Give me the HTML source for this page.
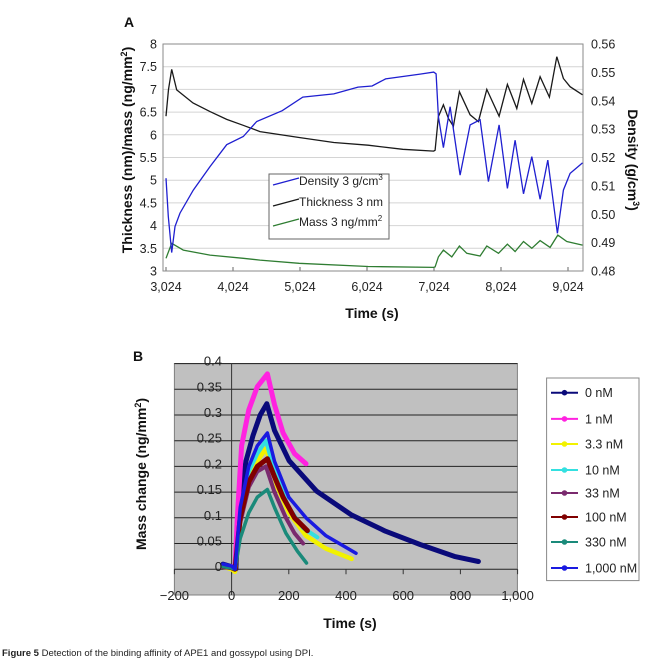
<!DOCTYPE html>
<html><head><meta charset="utf-8"><style>
body{margin:0;background:#fff;width:651px;height:663px;overflow:hidden;font-family:"Liberation Sans",Arial,sans-serif}
svg{position:absolute;left:0;top:0}
.cap{position:absolute;left:2px;top:648px;font-size:9.5px;color:#222}
</style></head><body>
<svg id="chart" width="651" height="663"></svg>
<div class="cap"><b>Figure 5</b> Detection of the binding affinity of APE1 and gossypol using DPI.</div>
<script>
// ---- Panel A data ----
const aTicksX=[3024,4024,5024,6024,7024,8024,9024];
const aTicksL=[3,3.5,4,4.5,5,5.5,6,6.5,7,7.5,8];
const aTicksR=[0.48,0.49,0.50,0.51,0.52,0.53,0.54,0.55,0.56];
const thickT=[3024,3062,3109,3184,3427,3681,3930,4176,4427,5010,5529,6040,6558,7020,7040,7090,7164,7239,7313,7403,7563,7687,7812,7996,8120,8260,8360,8484,8608,8747,8857,8956,9056,9240];
const thickV=[6.41,7.0,7.44,6.99,6.70,6.51,6.34,6.21,6.07,5.94,5.83,5.77,5.68,5.64,5.66,6.40,6.66,6.36,6.19,6.95,6.44,6.29,7.00,6.41,7.11,6.58,7.22,6.69,7.28,6.83,7.72,7.24,7.06,6.88];
const densT=[3024,3058,3109,3158,3233,3432,3681,3930,4178,4378,4759,5066,5529,5890,6100,6301,6816,7020,7056,7090,7164,7264,7413,7563,7712,7836,7996,8120,8235,8360,8484,8608,8722,8866,8956,9056,9240];
const densV=[0.5127,0.4992,0.4865,0.4957,0.5004,0.5085,0.5168,0.5245,0.5274,0.5327,0.5365,0.5413,0.5424,0.5448,0.5452,0.5477,0.5494,0.5501,0.5495,0.5344,0.5235,0.5379,0.5138,0.5315,0.5333,0.5115,0.5315,0.5091,0.5261,0.5072,0.5203,0.5053,0.5191,0.4933,0.5085,0.5144,0.5181];
const massT=[3024,3109,3282,3681,4178,4427,5010,6040,7020,7040,7090,7164,7289,7403,7514,7712,7812,7986,8120,8235,8360,8484,8608,8757,8872,9006,9240];
const massV=[3.28,3.61,3.46,3.35,3.28,3.24,3.17,3.10,3.08,3.09,3.31,3.46,3.31,3.55,3.39,3.33,3.55,3.39,3.59,3.43,3.65,3.50,3.67,3.52,3.79,3.65,3.57];
// ---- Panel B data ----
const bTicksX=[-200,0,200,400,600,800,1000];
const bTicksY=[0,0.05,0.1,0.15,0.2,0.25,0.3,0.35,0.4];
const bLabels=["0 nM","1 nM","3.3 nM","10 nM","33 nM","100 nM","330 nM","1,000 nM"];
const s0T=[-30,0,15,20,35,50,75,100,123,150,201,297,418,538,659,779,863];
const s0V=[0.01,0.005,0,0.06,0.15,0.21,0.26,0.30,0.322,0.27,0.211,0.152,0.106,0.074,0.048,0.025,0.015];
const s1T=[-30,0,12,20,35,60,90,125,150,180,220,260];
const s1V=[0.005,0.005,0,0.1,0.24,0.31,0.355,0.38,0.32,0.265,0.225,0.205];
const s2T=[-30,0,12,30,60,90,120,160,200,260,330,420];
const s2V=[0.005,0,-0.005,0.1,0.18,0.21,0.235,0.16,0.11,0.065,0.04,0.02];
const s3T=[-30,0,12,30,60,90,120,150,200,250,300];
const s3V=[0.008,0.004,0,0.11,0.19,0.225,0.25,0.19,0.12,0.08,0.062];
const s4T=[-30,0,12,30,60,90,120,150,190,220,250];
const s4V=[0.004,0.002,0,0.09,0.16,0.19,0.2,0.15,0.1,0.07,0.05];
const s5T=[-30,0,12,30,60,90,125,150,180,220,265];
const s5V=[0.006,0.003,0,0.1,0.17,0.2,0.215,0.18,0.14,0.1,0.075];
const s6T=[-30,0,12,30,60,90,125,150,190,230,262];
const s6V=[0.005,0.002,0,0.06,0.11,0.14,0.155,0.12,0.07,0.035,0.012];
const s7T=[-30,0,12,30,60,90,125,150,200,260,330,435];
const s7V=[0.01,0.006,0,0.12,0.2,0.24,0.265,0.21,0.14,0.1,0.065,0.031];

const NS="http://www.w3.org/2000/svg";
const svg=document.getElementById('chart');
function mk(tag,attrs,parent){const e=document.createElementNS(NS,tag);for(const k in attrs)e.setAttribute(k,attrs[k]);(parent||svg).appendChild(e);return e;}
function txt(x,y,s,attrs){const e=mk('text',Object.assign({x:x,y:y},attrs||{}));e.textContent=s;return e;}

// ===== Panel A =====
const AL=163,AR=583,AT=44,AB=271;
const ax=t=>166+(t-3024)*0.067;
const ayL=v=>AB-(v-3)*45.4;
const ayR=d=>AB-(d-0.48)*2837.5;
const gA=mk('g',{});


txt(124,27,"A",{'font-size':14,'font-weight':'bold',fill:'#111'});
aTicksL.forEach(v=>{
  const l=mk('line',{x1:AL,x2:AR,y1:ayL(v),y2:ayL(v),stroke:'#d4d4d4','stroke-width':1},gA);
  
  const t=txt(157,ayL(v)+4.5,String(v),{'font-size':12.5,'text-anchor':'end',fill:'#222'});
  
});
aTicksR.forEach(d=>{
  const t=txt(591,ayR(d)+4.5,d.toFixed(2),{'font-size':12.5,fill:'#222'});
  
});
aTicksX.forEach(t=>{
  mk('line',{x1:ax(t),x2:ax(t),y1:AB,y2:AB-4,stroke:'#666'},gA);
  const e=txt(ax(t),AB+20,t.toLocaleString('en-US'),{'font-size':12.5,'text-anchor':'middle',fill:'#222'});
  
});
const bA=mk('rect',{x:AL,y:AT,width:AR-AL,height:AB-AT,fill:'none',stroke:'#8a8a8a'},gA);

function polyA(T,V,fy,col,name){
  const p=mk('polyline',{points:T.map((t,i)=>ax(t).toFixed(1)+','+fy(V[i]).toFixed(1)).join(' '),fill:'none',stroke:col,'stroke-width':1.3},gA);
  
  
}
polyA(massT,massV,ayL,'#2f7d32','mass-line');
polyA(thickT,thickV,ayL,'#1a1a1a','thickness-line');
polyA(densT,densV,ayR,'#1f1fd0','density-line');
// legend A
const lg=mk('g',{},gA);


mk('rect',{x:269,y:174,width:120,height:65,fill:'#fff',stroke:'#666'},lg);
[['#1f1fd0','Density 3 g/cm','3',181],['#1a1a1a','Thickness 3 nm','',202],['#2f7d32','Mass 3 ng/mm','2',222]].forEach(r=>{
  mk('line',{x1:273,x2:299,y1:r[3]+4,y2:r[3]-3,stroke:r[0],'stroke-width':1.3},lg);
  const t=txt(299,r[3]+4,r[1],{'font-size':12,fill:'#222'});
  
  if(r[2]){const s=mk('tspan',{'font-size':8,dy:-5},t);s.textContent=r[2];}
});
const ttA=txt(372,318,"Time (s)",{'font-size':14,'font-weight':'bold','text-anchor':'middle',fill:'#111'});

const ylA=txt(0,0,"Thickness (nm)/mass (ng/mm",{'font-size':14,'font-weight':'bold','text-anchor':'middle',fill:'#111',transform:'translate(132,150) rotate(-90)'});

{const s=mk('tspan',{'font-size':9,dy:-5},ylA);s.textContent='2';const s2=mk('tspan',{dy:5},ylA);s2.textContent=')';}
const yrA=txt(0,0,"Density (g/cm",{'font-size':14,'font-weight':'bold','text-anchor':'middle',fill:'#111',transform:'translate(628,160) rotate(90)'});

{const s=mk('tspan',{'font-size':9,dy:-5},yrA);s.textContent='3';const s2=mk('tspan',{dy:5},yrA);s2.textContent=')';}

// ===== Panel B =====
const BL=174.4,BR=517.4,BT=363.5,BB=595;
const bx=t=>231.6+t*0.286;
const by=m=>569.2-m*514;
const gB=mk('g',{});


txt(133,361,"B",{'font-size':14,'font-weight':'bold',fill:'#111'});
const bg=mk('rect',{x:BL,y:BT,width:BR-BL,height:BB-BT,fill:'#c0c0c0',stroke:'#808080'},gB);

bTicksY.forEach(m=>{
  if(m>0){const l=mk('line',{x1:BL,x2:BR,y1:by(m),y2:by(m),stroke:'#222','stroke-width':1},gB);}
  const t=txt(222,by(m)+2,String(m),{'font-size':13,'text-anchor':'end',fill:'#222'});
  
});
mk('line',{x1:BL,x2:BR,y1:by(0),y2:by(0),stroke:'#222'},gB);
mk('line',{x1:bx(0),x2:bx(0),y1:BT,y2:BB,stroke:'#333'},gB);
bTicksX.forEach(t=>{
  mk('line',{x1:bx(t),x2:bx(t),y1:by(0),y2:by(0)+5,stroke:'#333'},gB);
  const e=txt(bx(t),600,t<0?'\u2212'+(-t):t.toLocaleString('en-US'),{'font-size':13,'text-anchor':'middle',fill:'#222'});
  
});
const bColors=['#0a0a7a','#ff22e0','#f2f200','#33e0e0','#7a2a6e','#800000','#1a8a7a','#1a1ae0'];
const bSeries=[[s0T,s0V],[s1T,s1V],[s2T,s2V],[s3T,s3V],[s4T,s4V],[s5T,s5V],[s6T,s6V],[s7T,s7V]];
const widths=[5,5,4.5,4,4,5,3.5,3.5];
bSeries.forEach((s,k)=>{
  const p=mk('polyline',{points:s[0].map((t,i)=>bx(t).toFixed(1)+','+by(s[1][i]).toFixed(1)).join(' '),fill:'none',stroke:bColors[k],'stroke-width':widths[k],'stroke-linejoin':'round','stroke-linecap':'round'},gB);
  
  
});
// legend B
const lb=mk('g',{},gB);


mk('rect',{x:546.6,y:378,width:92.4,height:202.6,fill:'#fff',stroke:'#888'},lb);
const rowsY=[392.7,418.9,444,470,493,517,542,568];
bLabels.forEach((lab,k)=>{
  const y=rowsY[k];
  mk('line',{x1:551,x2:578,y1:y,y2:y,stroke:bColors[k],'stroke-width':2},lb);
  mk('circle',{cx:564.5,cy:y,r:2.8,fill:bColors[k]},lb);
  const t=txt(585,y+4.5,lab,{'font-size':12.5,fill:'#222'});
  
});
const ttB=txt(350,628,"Time (s)",{'font-size':14,'font-weight':'bold','text-anchor':'middle',fill:'#111'});

const ylB=txt(0,0,"Mass change (ng/mm",{'font-size':14,'font-weight':'bold','text-anchor':'middle',fill:'#111',transform:'translate(146,474) rotate(-90)'});

{const s=mk('tspan',{'font-size':9,dy:-5},ylB);s.textContent='2';const s2=mk('tspan',{dy:5},ylB);s2.textContent=')';}
</script>
</body></html>
